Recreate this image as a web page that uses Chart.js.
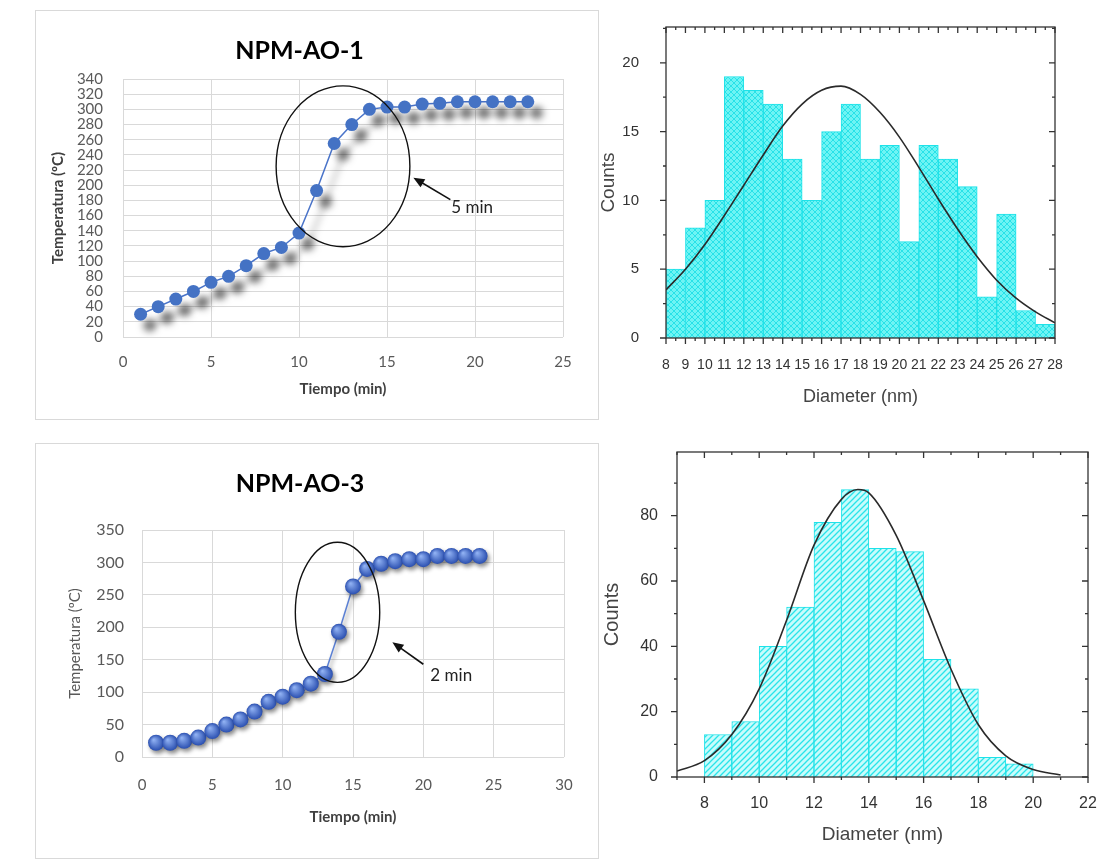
<!DOCTYPE html>
<html>
<head>
<meta charset="utf-8">
<script src="https://cdn.jsdelivr.net/npm/chart.js@4.4.1/dist/chart.umd.min.js"></script>
<style>
  body { margin: 0; background: #fff; width: 1110px; height: 868px; position: relative; overflow: hidden; }
  .box { position: absolute; }
  .frame { position: absolute; border: 1px solid #d9d9d9; box-sizing: border-box; }
</style>
</head>
<body>
<div class="frame" style="left:35px;top:10px;width:564px;height:410px"></div>
<div class="frame" style="left:35px;top:443px;width:564px;height:416px"></div>
<div class="box" style="left:36px;top:11px;width:562px;height:408px"><canvas id="ao1"></canvas></div>
<div class="box" style="left:590px;top:11px;width:508px;height:410px"><canvas id="hist1"></canvas></div>
<div class="box" style="left:36px;top:444px;width:562px;height:414px"><canvas id="ao3"></canvas></div>
<div class="box" style="left:590px;top:444px;width:510px;height:418px"><canvas id="hist3"></canvas></div>
<script>
// NPM-AO-1 heating curve
const time1 = [1, 2, 3, 4, 5, 6, 7, 8, 9, 10, 11, 12, 13, 14, 15, 16, 17, 18, 19, 20, 21, 22, 23];
const temp1 = [30, 40, 50, 60, 72, 80, 94, 110, 118, 137, 193, 255, 280, 300, 303, 303, 307, 308, 310, 310, 310, 310, 310];

// NPM-AO-3 heating curve
const time3 = [1, 2, 3, 4, 5, 6, 7, 8, 9, 10, 11, 12, 13, 14, 15, 16, 17, 18, 19, 20, 21, 22, 23, 24];
const temp3 = [22, 22, 25, 30, 40, 50, 58, 70, 85, 93, 103, 113, 128, 193, 263, 290, 298, 302, 305, 305, 310, 310, 310, 310];

// size histogram, top
const binMid1 = [8.5, 9.5, 10.5, 11.5, 12.5, 13.5, 14.5, 15.5, 16.5, 17.5, 18.5, 19.5, 20.5, 21.5, 22.5, 23.5, 24.5, 25.5, 26.5, 27.5];
const counts1 = [5, 8, 10, 19, 18, 17, 13, 10, 15, 17, 13, 14, 7, 14, 13, 11, 3, 9, 2, 1];
const fitX1 = [8, 9, 10, 11, 12, 13, 14, 15, 16, 17, 18, 19, 20, 21, 22, 23, 24, 25, 26, 27, 28];
const fitY1 = [3.5, 5, 6.8, 8.9, 11.1, 13.3, 15.4, 17, 18, 18.3, 17.7, 16.4, 14.6, 12.4, 10.1, 7.9, 5.9, 4.2, 2.9, 1.9, 1.1];

// size histogram, bottom
const binMid3 = [8.5, 9.5, 10.5, 11.5, 12.5, 13.5, 14.5, 15.5, 16.5, 17.5, 18.5, 19.5];
const counts3 = [13, 17, 40, 52, 78, 88, 70, 69, 36, 27, 6, 4];
const fitX3 = [7, 8, 9, 10, 11, 12, 13, 13.6, 14, 15, 16, 17, 18, 19, 20, 21];
const fitY3 = [1.8, 5, 13, 27, 48, 71, 85, 88, 87, 74, 54, 33, 16, 6.5, 2.3, 0.6];

const xlFont = 'Lato, "Open Sans", sans-serif';
const orFont = '"Liberation Sans", Arial, sans-serif';
const pts = (xs, ys) => xs.map((v, i) => ({x: v, y: ys[i]}));
const noPad = s => { s.paddingTop = 0; s.paddingBottom = 0; s.paddingLeft = 0; s.paddingRight = 0; };

function makePattern(kind) {
  const c = document.createElement('canvas');
  c.width = 6; c.height = 6;
  const g = c.getContext('2d');
  if (kind === 'cross') {
    g.fillStyle = 'rgb(110,244,244)';
    g.fillRect(0, 0, 6, 6);
    g.strokeStyle = 'rgb(40,226,232)';
    g.lineWidth = 1;
    g.beginPath();
    g.moveTo(0, 0); g.lineTo(6, 6);
    g.moveTo(6, 0); g.lineTo(0, 6);
    g.stroke();
  } else {
    g.fillStyle = 'rgb(200,252,252)';
    g.fillRect(0, 0, 6, 6);
    g.strokeStyle = 'rgb(40,228,234)';
    g.lineWidth = 1.3;
    g.beginPath();
    g.moveTo(0, 6); g.lineTo(6, 0);
    g.moveTo(-1, 1); g.lineTo(1, -1);
    g.moveTo(5, 7); g.lineTo(7, 5);
    g.stroke();
  }
  return g.createPattern(c, 'repeat');
}

// shaded sphere look for the markers
function sphere(light, dark) {
  return ctx => {
    const chart = ctx.chart;
    if (!chart.chartArea || !ctx.raw) return dark;
    const px = chart.scales.x.getPixelForValue(ctx.raw.x);
    const py = chart.scales.y.getPixelForValue(ctx.raw.y);
    const g = chart.ctx.createRadialGradient(px - 2.5, py - 3, 0.5, px, py, 8);
    g.addColorStop(0, light);
    g.addColorStop(1, dark);
    return g;
  };
}

// drop shadow under the Excel markers
const shadow = {
  id: 'shadow',
  beforeDatasetsDraw(chart, args, o) {
    if (!o.blur) return;
    const ctx = chart.ctx;
    ctx.save();
    ctx.shadowColor = o.color;
    ctx.shadowBlur = o.blur;
    ctx.shadowOffsetX = o.dx;
    ctx.shadowOffsetY = o.dy;
  },
  afterDatasetsDraw(chart, args, o) {
    if (o.blur) chart.ctx.restore();
  }
};

// ellipse + arrow + label, placed in data units
const notes = {
  id: 'notes',
  afterDatasetsDraw(chart, args, o) {
    if (!o.ellipse) return;
    const {ctx, scales: {x, y}} = chart;
    const [ex, ey, erx, ery] = o.ellipse;
    const cx = x.getPixelForValue(ex), cy = y.getPixelForValue(ey);
    const rx = x.getPixelForValue(ex + erx) - cx;
    const ry = cy - y.getPixelForValue(ey + ery);
    ctx.save();
    ctx.strokeStyle = '#111';
    ctx.lineWidth = 1.4;
    ctx.beginPath();
    ctx.ellipse(cx, cy, rx, ry, 0, 0, Math.PI * 2);
    ctx.stroke();

    const hx = x.getPixelForValue(o.arrow[0]), hy = y.getPixelForValue(o.arrow[1]);
    const tx = x.getPixelForValue(o.arrow[2]), ty = y.getPixelForValue(o.arrow[3]);
    const ang = Math.atan2(hy - ty, hx - tx);
    ctx.lineWidth = 1.6;
    ctx.beginPath();
    ctx.moveTo(tx, ty);
    ctx.lineTo(hx - 8 * Math.cos(ang), hy - 8 * Math.sin(ang));
    ctx.stroke();
    ctx.fillStyle = '#111';
    ctx.beginPath();
    ctx.moveTo(hx, hy);
    ctx.lineTo(hx - 12 * Math.cos(ang - 0.4), hy - 12 * Math.sin(ang - 0.4));
    ctx.lineTo(hx - 12 * Math.cos(ang + 0.4), hy - 12 * Math.sin(ang + 0.4));
    ctx.closePath();
    ctx.fill();

    ctx.font = '17px ' + xlFont;
    ctx.fillStyle = '#222';
    ctx.textBaseline = 'middle';
    ctx.fillText(o.text, x.getPixelForValue(o.at[0]), y.getPixelForValue(o.at[1]));
    ctx.restore();
  }
};

// boxed frame with ticks, Origin style
const frame = {
  id: 'frame',
  afterDraw(chart, args, o) {
    if (!o.show) return;
    const {ctx, chartArea: a, scales: {x, y}} = chart;
    const isMajor = (v, step) => Math.abs(v / step - Math.round(v / step)) < 1e-6;
    ctx.save();
    ctx.strokeStyle = '#333';
    ctx.lineWidth = 1.3;
    ctx.strokeRect(a.left, a.top, a.right - a.left, a.bottom - a.top);
    ctx.beginPath();
    for (let v = x.min; v <= x.max + 1e-9; v += o.xMinor) {
      const px = x.getPixelForValue(v);
      const len = isMajor(v, o.xMajor) ? 6 : 3;
      ctx.moveTo(px, a.bottom); ctx.lineTo(px, a.bottom + len);
      ctx.moveTo(px, a.top); ctx.lineTo(px, a.top + len);
    }
    for (let v = y.min; v <= y.max + 1e-9; v += o.yMinor) {
      const py = y.getPixelForValue(v);
      const len = isMajor(v, o.yMajor) ? 6 : 3;
      ctx.moveTo(a.left, py); ctx.lineTo(a.left - len, py);
      ctx.moveTo(a.right, py); ctx.lineTo(a.right - len, py);
    }
    ctx.stroke();
    ctx.restore();
  }
};

function tempChart(id, o) {
  return new Chart(document.getElementById(id), {
    type: 'line',
    data: {
      datasets: [{
        data: pts(o.xs, o.ys),
        borderColor: o.lineColor,
        borderWidth: 1.5,
        backgroundColor: o.marker,
        pointBackgroundColor: o.markerFill,
        pointBorderColor: o.marker,
        pointRadius: o.radius,
        pointBorderWidth: 0,
        tension: 0
      }]
    },
    options: {
      responsive: true,
      maintainAspectRatio: false,
      animation: false,
      events: [],
      layout: {padding: {left: 0, right: o.padRight, top: 0, bottom: 0}},
      plugins: {
        legend: {display: false},
        tooltip: {enabled: false},
        title: {
          display: true,
          text: o.title,
          color: '#000',
          font: {family: xlFont, size: 25, weight: 'bold'},
          padding: o.titlePad
        },
        shadow: o.shadow,
        notes: o.notes
      },
      scales: {
        x: {
          type: 'linear',
          min: 0, max: o.xMax,
          afterFit: s => { s.height = o.xHeight; noPad(s); },
          ticks: {stepSize: 5, color: '#595959', padding: o.xTickPad, font: {family: xlFont, size: 15}},
          grid: {color: '#d9d9d9', drawTicks: false},
          border: {display: false},
          title: {display: true, text: 'Tiempo (min)', color: '#404040',
                  font: {family: xlFont, size: 15, weight: 'bold'}, padding: {top: 0, bottom: o.xTitlePad}}
        },
        y: {
          min: 0, max: o.yMax,
          afterFit: s => { s.width = o.yWidth; noPad(s); },
          ticks: {stepSize: o.yStep, autoSkip: false, color: '#595959', padding: o.yTickPad,
                  font: {family: xlFont, size: o.yTickSize}},
          grid: {color: '#d9d9d9', drawTicks: false},
          border: {display: false},
          title: {display: true, text: 'Temperatura (ºC)', color: o.yTitleColor,
                  font: {family: xlFont, size: 15, weight: o.yTitleWeight}, padding: {top: o.yTitlePad, bottom: 0}}
        }
      }
    },
    plugins: [shadow, notes]
  });
}

function histChart(id, o) {
  return new Chart(document.getElementById(id), {
    type: 'bar',
    data: {
      datasets: [{
        type: 'line',
        data: pts(o.fitX, o.fitY),
        borderColor: '#2a2a2a',
        borderWidth: 1.6,
        pointRadius: 0,
        cubicInterpolationMode: 'monotone',
        order: 0
      }, {
        data: pts(o.mids, o.counts),
        backgroundColor: makePattern(o.pattern),
        borderColor: 'rgb(30,226,232)',
        borderWidth: 1,
        barPercentage: 1,
        categoryPercentage: 1,
        order: 1
      }]
    },
    options: {
      responsive: true,
      maintainAspectRatio: false,
      animation: false,
      events: [],
      layout: {padding: {left: 0, right: o.padRight, top: o.padTop, bottom: 0}},
      plugins: {
        legend: {display: false},
        tooltip: {enabled: false},
        frame: Object.assign({show: true}, o.frame)
      },
      scales: {
        x: {
          type: 'linear',
          offset: false,
          min: o.xMin, max: o.xMax,
          afterFit: s => { s.height = o.xHeight; noPad(s); },
          afterBuildTicks: s => { s.ticks = s.ticks.filter(t => t.value % o.frame.xMajor === 0); },
          ticks: {stepSize: o.frame.xMajor, autoSkip: false, maxRotation: 0, color: '#333',
                  padding: o.xTickPad, font: {family: orFont, size: o.xTickSize}},
          grid: {display: false},
          border: {display: false},
          title: {display: true, text: 'Diameter (nm)', color: '#444',
                  font: {family: orFont, size: o.xTitleSize}, padding: {top: 0, bottom: o.xTitlePad}}
        },
        y: {
          min: 0, max: o.yMax,
          afterFit: s => { s.width = o.yWidth; noPad(s); },
          afterBuildTicks: s => { s.ticks = s.ticks.filter(t => t.value % o.frame.yMajor === 0); },
          ticks: {stepSize: o.frame.yMajor, color: '#333', padding: o.yTickPad,
                  font: {family: orFont, size: o.yTickSize}},
          grid: {display: false},
          border: {display: false},
          title: {display: true, text: 'Counts', color: '#444',
                  font: {family: orFont, size: o.yTitleSize}, padding: {top: o.yTitlePad, bottom: 0}}
        }
      }
    },
    plugins: [frame]
  });
}

tempChart('ao1', {
  xs: time1, ys: temp1, title: 'NPM-AO-1', xMax: 25, yMax: 340, yStep: 20, yTickSize: 15,
  lineColor: '#4a74c9', marker: '#4472c4', markerFill: '#4472c4', radius: 6.5,
  padRight: 35, titlePad: {top: 25, bottom: 13},
  xHeight: 82, yWidth: 87, xTickPad: 16, yTickPad: 20, xTitlePad: 21, yTitlePad: 13,
  yTitleColor: '#404040', yTitleWeight: 'bold',
  shadow: {blur: 7, dx: 9, dy: 11, color: 'rgba(0,0,0,0.5)'},
  notes: {ellipse: [12.5, 225, 3.8, 106], arrow: [16.5, 210, 18.6, 181], text: '5 min', at: [18.65, 170]}
});

tempChart('ao3', {
  xs: time3, ys: temp3, title: 'NPM-AO-3', xMax: 30, yMax: 350, yStep: 50, yTickSize: 16,
  lineColor: '#5b80d4', marker: '#2f55b8', markerFill: sphere('#8fb0f2', '#2a4fb0'), radius: 8,
  padRight: 34, titlePad: {top: 25, bottom: 31},
  xHeight: 101, yWidth: 106, xTickPad: 19, yTickPad: 18, xTitlePad: 32, yTitlePad: 30,
  yTitleColor: '#595959', yTitleWeight: 'normal',
  shadow: {blur: 4, dx: 2, dy: 3, color: 'rgba(0,0,0,0.45)'},
  notes: {ellipse: [13.9, 223, 3.0, 108], arrow: [17.8, 177, 20.0, 143], text: '2 min', at: [20.5, 126]}
});

histChart('hist1', {
  mids: binMid1, counts: counts1, fitX: fitX1, fitY: fitY1, pattern: 'cross',
  xMin: 8, xMax: 28, yMax: 22.6,
  frame: {xMajor: 1, xMinor: 0.5, yMajor: 5, yMinor: 2.5},
  padRight: 43, padTop: 16, xHeight: 83, yWidth: 76,
  xTickSize: 14, yTickSize: 15, xTickPad: 11, yTickPad: 19,
  xTitleSize: 18, xTitlePad: 13, yTitleSize: 19, yTitlePad: 7
});

histChart('hist3', {
  mids: binMid3, counts: counts3, fitX: fitX3, fitY: fitY3, pattern: 'diag',
  xMin: 7, xMax: 22, yMax: 99.5,
  frame: {xMajor: 2, xMinor: 1, yMajor: 20, yMinor: 10},
  padRight: 12, padTop: 8, xHeight: 85, yWidth: 87,
  xTickSize: 16, yTickSize: 16, xTickPad: 9, yTickPad: 11,
  xTitleSize: 19, xTitlePad: 16, yTitleSize: 20, yTitlePad: 10
});
</script>
</body>
</html>
